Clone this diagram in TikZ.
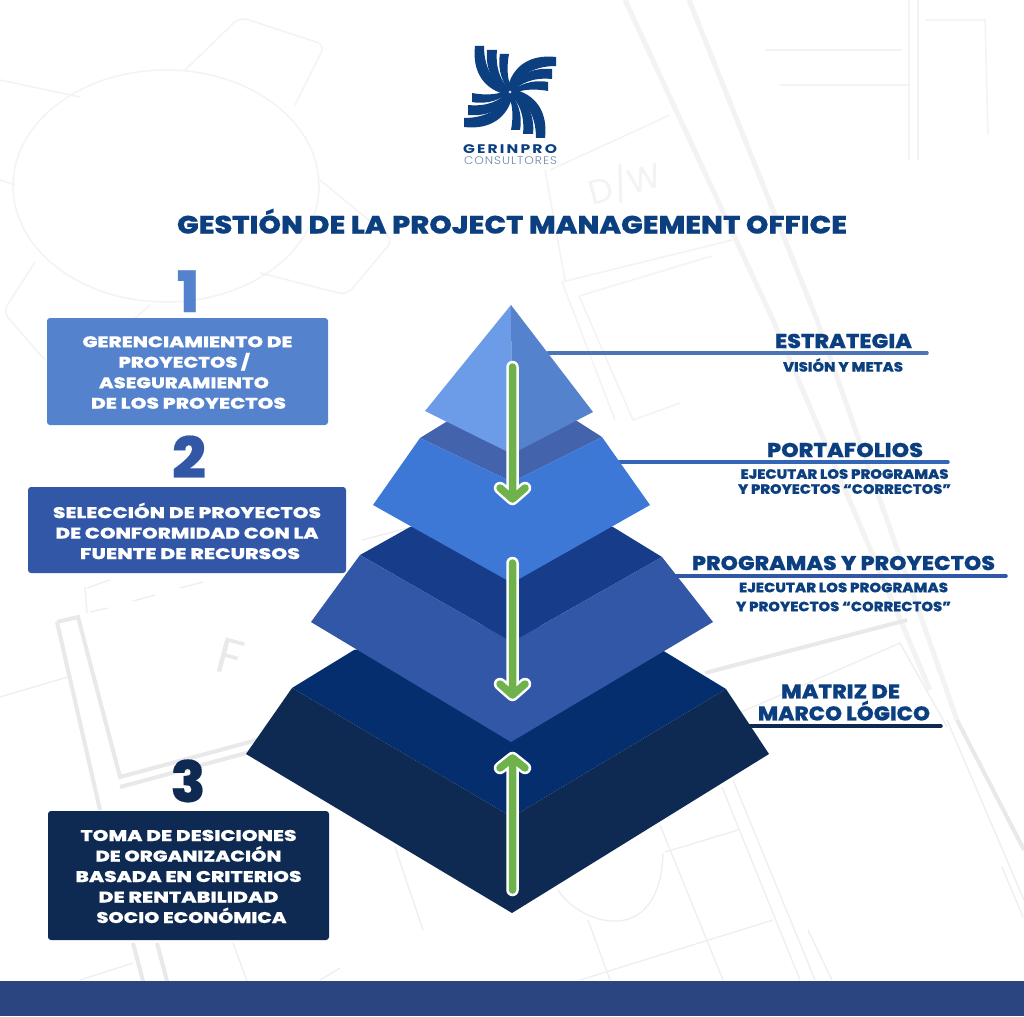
\documentclass[tikz,border=0pt]{standalone}
\usepackage{graphicx}
\usepackage{fontspec}
\setmainfont{Poppins}[BoldFont={Poppins ExtraBold},BoldFeatures={FakeBold=0.3}]
\newfontfamily\logolight{Poppins Light}[LetterSpace=8]
\newfontfamily\logobold{Poppins Bold}[LetterSpace=14]
\newsavebox\fitbox
\newcommand\fitw[3][0]{\sbox\fitbox{#3}\pgfmathsetmacro\fitr{#2/\the\wd\fitbox}\kern#1pt\scalebox{\fitr}[1]{\usebox\fitbox}\kern-#1pt\relax}
\definecolor{bgline}{HTML}{F3F3F3}
\definecolor{bgmid}{HTML}{EEEEEE}
\definecolor{bgthick}{HTML}{E9E9E9}
\definecolor{navy}{HTML}{0B3F80}
\definecolor{logogray}{HTML}{6E85A5}
\definecolor{taOne}{HTML}{6C9BE8}
\definecolor{tbOne}{HTML}{5582CC}
\definecolor{taTwo}{HTML}{4463AD}
\definecolor{tbTwo}{HTML}{3D78D6}
\definecolor{taThree}{HTML}{173C8A}
\definecolor{tbThree}{HTML}{3157A6}
\definecolor{taFour}{HTML}{052E6E}
\definecolor{tbFour}{HTML}{0F2A52}
\definecolor{barblue}{HTML}{2B4581}
\definecolor{arrowgr}{HTML}{6FB14A}
\tikzset{
  thinbg/.style={draw=bgline,line width=1.5pt},
  lowbg/.style={draw=bgmid,line width=1.3pt},
  thickbg/.style={draw=bgthick,line width=4pt},
  bandbg/.style={draw=bgline,line width=5pt},
  infobox/.style={rounded corners=3pt,inner sep=0pt},
  infotext/.style={text=white,font=\bfseries\fontsize{15.5}{20.5}\selectfont,align=center,inner sep=0pt,yshift=-1pt},
  rhead/.style={text=navy,font=\bfseries\fontsize{20}{22}\selectfont,align=center,inner sep=0pt},
  rsub/.style={text=navy,font=\bfseries\fontsize{13.5}{15}\selectfont,align=center,inner sep=0pt},
  bignum/.style={font=\bfseries\fontsize{57}{60}\selectfont,anchor=base,inner sep=0pt},
  leader/.style={line width=3.5pt,line cap=round},
  arrowwhite/.style={draw=white,line width=12.5pt,line cap=round,line join=round},
  arrowgreen/.style={draw=arrowgr,line width=7.5pt,line cap=round,line join=round},
}
\begin{document}
\begin{tikzpicture}[x=1pt,y=-1pt]
\useasboundingbox (0,0) rectangle (1024,1016);
\fill[white] (0,0) rectangle (1024,1016);
% --- faint blueprint background
\draw[thinbg] (166,186) ellipse [x radius=153,y radius=116];
\draw[thinbg,rounded corners=8pt] (185,70) -- (240,17) -- (325,45) -- (295,105);
\draw[thinbg,rounded corners=8pt] (320,180) -- (393,240) -- (347,295) -- (260,273);
\draw[thinbg] (0,80) -- (80,97) (0,180) -- (15,185);
\draw[thinbg,rounded corners=8pt] (35,262) -- (3,312) -- (45,360);
\draw[thinbg] (150,305) -- (135,318);
\draw[bandbg] (625,0) -- (773,320) -- (930,690);
\draw[bandbg] (689,0) -- (817,320) -- (957,720);
\draw[thickbg] (957,720) -- (1024,850);
\draw[lowbg] (947,720) -- (1024,900);
\draw[thinbg] (765,50) -- (902,50) (780,85) -- (910,85);
\draw[thinbg] (909,0) -- (909,160) (918,0) -- (918,160);
\draw[thinbg] (925,20) -- (985,20) -- (988,135);
\draw[thinbg] (562,282) -- (732,240) (579,296) -- (712,256);
\draw[thinbg] (562,282) -- (615,420) (579,296) -- (633,420) -- (680,403);
\draw[thinbg] (550,170) -- (670,115) (545,170) -- (565,280);
\node[text=bgline,font=\fontsize{34}{36}\selectfont,rotate=15,inner sep=0pt] (dw) at (625,183) {D/W};
% lower left plan
\draw[thickbg] (57,622) -- (78,617) -- (120,777) -- (257,740);
\draw[thickbg] (57,622) -- (100,810);
\draw[thickbg] (120,787) -- (265,748);
\draw[thickbg] (133,943) -- (143,981) (157,943) -- (167,981);
\draw[lowbg] (0,697) -- (68,677) (85,587) -- (87,613);
\draw[lowbg] (87,588) -- (110,580) (133,601) -- (155,595) (180,588) -- (203,582) (90,612) -- (108,608);
\draw[lowbg] (80,980) -- (133,963) (233,943) -- (247,981) (320,980) -- (340,968) (395,847) -- (423,930) (362,540) -- (420,525);
\node[text=bgthick,font=\fontsize{50}{52}\selectfont,rotate=-15,inner sep=0pt] (fmark) at (230,657) {F};
% lower right plan
\draw[thickbg] (705,673) -- (907,620);
\draw[lowbg] (723,720) -- (900,643) -- (947,727);
\draw[lowbg] (722,787) -- (800,980) (733,780) -- (815,980) (808,930) -- (832,980);
\draw[lowbg] (660,825) -- (723,980) (665,852) -- (738,830) (580,980) -- (773,920);
\draw[lowbg] (558,890) .. controls (580,925) and (660,950) .. (663,853);
\draw[lowbg] (588,920) -- (610,980) (1002,867) -- (1023,917);
% --- bottom bar
\fill[barblue] (0,981) rectangle (1024,1016);
% --- logo
\foreach \ang in {0,90,180,270}{
\begin{scope}[shift={(510,92)},rotate=\ang]
\fill[navy] (-35,-46) .. controls (-38,-20) and (-26,-2) .. (-2,3) -- (-2,-1) .. controls (-15,-8) and (-26,-22) .. (-26,-46) -- cycle;
\fill[navy] (-23,-42) .. controls (-25,-22) and (-16,-5) .. (-1,0) -- (0,-3) .. controls (-8,-9) and (-15,-22) .. (-13,-42) -- cycle;
\fill[navy] (-10,-38) .. controls (-13,-22) and (-7,-8) .. (0,-1) -- (2,-3) .. controls (-2,-10) and (-4,-22) .. (-1,-38) -- cycle;
\end{scope}}
\node[text=navy,font=\logobold\fontsize{12.5}{14}\selectfont,inner sep=0pt] (logoa) at (510,149) {\fitw{94}{GERINPRO}};
\node[text=logogray,font=\logolight\fontsize{11}{12}\selectfont,inner sep=0pt] (logob) at (510.5,161) {\fitw{93}{CONSULTORES}};
% --- title
\node[text=navy,font=\bfseries\fontsize{25}{27}\selectfont,anchor=base,inner sep=0pt] (title) at (512,233.5) {\fitw{670}{GESTIÓN DE LA PROJECT MANAGEMENT OFFICE}};
% --- leader anchors
\coordinate (l1a) at (548,353); \coordinate (l1b) at (927,353);
\coordinate (l2a) at (619,462); \coordinate (l2b) at (948,462);
\coordinate (l3a) at (675,576); \coordinate (l3b) at (1006,576);
\coordinate (l4a) at (748,726); \coordinate (l4b) at (941,726);
\draw[leader,draw=tbOne!90!black] (l1a) -- (l1b);
\draw[leader,draw=tbTwo!85!black] (l2a) -- (l2b);
\draw[leader,draw=tbThree] (l3a) -- (l3b);
\draw[leader,draw=tbFour] (l4a) -- (l4b);
% --- pyramid
\fill[taFour] (292,688) -- (354,650) -- (512,620) -- (662,650) -- (726,689) -- (512,817) -- cycle;
\fill[tbFour] (292,688) -- (246,754) -- (512,913) -- (769,754) -- (726,689) -- (512,817) -- cycle;
\fill[taThree] (360,555) -- (410,527) -- (512,500) -- (613,527) -- (662,557) -- (512,642) -- cycle;
\fill[tbThree] (360,555) -- (311,622) -- (511,742) -- (713,622) -- (662,557) -- (512,642) -- cycle;
\fill[taTwo] (420,438) -- (446,422) -- (512,400) -- (577,421) -- (602,437) -- (512,482) -- cycle;
\fill[tbTwo] (420,438) -- (373,505) -- (512,583) -- (650,505) -- (602,437) -- (512,482) -- cycle;
\fill[taOne] (511,305) -- (425,411) -- (512,454) -- cycle;
\fill[tbOne] (511,305) -- (593,412) -- (512,454) -- cycle;
% --- arrows
\coordinate (a1s) at (512.5,367); \coordinate (a1e) at (512.5,499); \coordinate (a1l) at (500,488); \coordinate (a1r) at (525,488);
\coordinate (a2s) at (512.5,563); \coordinate (a2e) at (512.5,695); \coordinate (a2l) at (500,684); \coordinate (a2r) at (525,684);
\coordinate (a3s) at (512.5,890); \coordinate (a3e) at (512.5,758); \coordinate (a3l) at (500,768); \coordinate (a3r) at (525,768);
\foreach \st in {arrowwhite,arrowgreen}{
  \draw[\st] (a1s) -- (a1e) (a1l) -- (a1e) -- (a1r);
  \draw[\st] (a2s) -- (a2e) (a2l) -- (a2e) -- (a2r);
  \draw[\st] (a3s) -- (a3e) (a3l) -- (a3e) -- (a3r);
}
% --- left column
\node[bignum,text=tbOne] (n1) at (188,312) {\fitw{22}{1}};
\node[infobox,fill=tbOne,minimum width=281pt,minimum height=107pt] (b1) at (187.5,371.5) {};
\node[infotext] (t1) at (b1.center) {%
\fitw{210}{GERENCIAMIENTO DE}\\\fitw[-3.5]{131}{PROYECTOS /}\\\fitw[-3.5]{170}{ASEGURAMIENTO}\\\fitw[1]{195}{DE LOS PROYECTOS}};
\node[bignum,text=tbThree] (n2) at (189,478) {\fitw{34}{2}};
\node[infobox,fill=tbThree,minimum width=318pt,minimum height=86pt] (b2) at (187,530) {};
\node[infotext] (t2) at (b2.center) {%
\fitw{268}{SELECCIÓN DE PROYECTOS}\\\fitw{263}{DE CONFORMIDAD CON LA}\\\fitw[3]{220}{FUENTE DE RECURSOS}};
\node[bignum,text=tbFour] (n3) at (188,802) {\fitw{35}{3}};
\node[infobox,fill=tbFour,minimum width=281pt,minimum height=129pt] (b3) at (188.5,875.5) {};
\node[infotext] (t3) at (b3.center) {%
\fitw{216}{TOMA DE DESICIONES}\\\fitw{186}{DE ORGANIZACIÓN}\\\fitw{226}{BASADA EN CRITERIOS}\\\fitw{180}{DE RENTABILIDAD}\\\fitw[3]{190}{SOCIO ECONÓMICA}};
% --- right column
\node[rhead] (r1) at (843.5,341) {\fitw{137}{ESTRATEGIA}};
\node[rsub] (r1s) at (843,365) {\fitw{120}{VISIÓN Y METAS}};
\node[rhead] (r2) at (845,450) {\fitw{156}{PORTAFOLIOS}};
\node[rsub] (r2s) at (844.5,481.5) {\fitw{208}{EJECUTAR LOS PROGRAMAS}\\\fitw{213}{Y PROYECTOS “CORRECTOS”}};
\node[rhead] (r3) at (843.5,563) {\fitw{303}{PROGRAMAS Y PROYECTOS}};
\node[rsub,font=\bfseries\fontsize{13.5}{19}\selectfont] (r3s) at (843.5,597) {\fitw{209}{EJECUTAR LOS PROGRAMAS}\\\fitw{215}{Y PROYECTOS “CORRECTOS”}};
\node[rhead] (r4) at (844,702.5) {\fitw[-3.5]{119}{MATRIZ DE}\\\fitw{172}{MARCO LÓGICO}};
\end{tikzpicture}
\end{document}
